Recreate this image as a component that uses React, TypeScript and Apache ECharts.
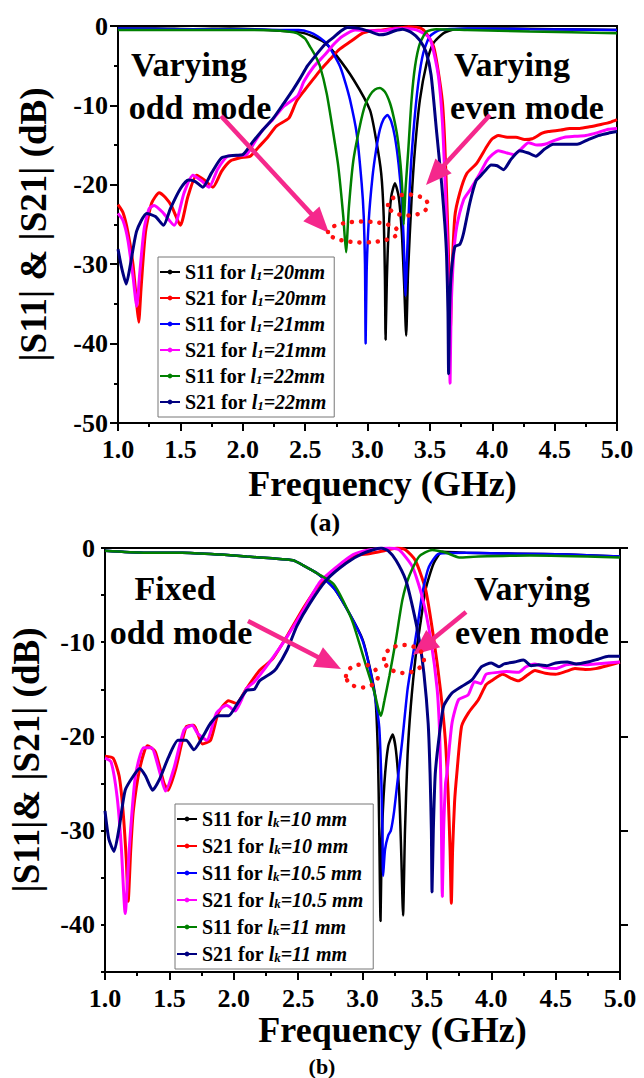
import React, { useEffect, useRef } from 'react';
import * as echarts from 'echarts';

// ---------- (a) data: |S11| / |S21| in dB vs frequency in GHz ----------
const aNames = ['S11 for l1=20mm', 'S21 for l1=20mm', 'S11 for l1=21mm', 'S21 for l1=21mm', 'S11 for l1=22mm', 'S21 for l1=22mm'];

const a_S11_l20: number[][] = [
  [1.0, -0.3], [1.3, -0.3], [1.6, -0.4], [1.9, -0.3], [2.1, -0.4], [2.3, -0.6], [2.49, -0.9], [2.65, -2.0], [2.75, -3.7],
  [2.89, -6.8], [3.02, -10.6], [3.07, -14.4], [3.11, -18.6], [3.13, -24], [3.14, -32], [3.145, -39.5], [3.155, -32],
  [3.17, -25.5], [3.19, -21.5], [3.22, -19.8], [3.25, -21.5], [3.275, -26], [3.295, -33], [3.31, -39], [3.325, -31],
  [3.353, -21.9], [3.38, -15.6], [3.42, -9.3], [3.474, -4.7], [3.527, -2.2], [3.61, -0.9], [3.7, -0.4], [4.0, -0.3],
  [4.5, -0.4], [5.0, -0.5],
];
const a_S11_l21: number[][] = [
  [1.0, -0.3], [1.5, -0.4], [2.0, -0.4], [2.3, -0.5], [2.45, -0.5], [2.54, -0.8], [2.6, -1.3], [2.673, -2.2], [2.73, -3.6],
  [2.78, -5.1], [2.82, -7], [2.86, -9.3], [2.913, -13.5], [2.953, -19.8], [2.97, -24], [2.98, -30], [2.985, -40],
  [2.993, -31], [3.01, -24.5], [3.04, -19], [3.07, -15.5], [3.1, -13], [3.13, -11.7], [3.16, -11.2], [3.19, -12],
  [3.22, -14], [3.25, -17.5], [3.275, -22], [3.29, -27], [3.305, -34], [3.315, -30], [3.34, -19.8], [3.367, -13.5],
  [3.407, -7.2], [3.447, -3.4], [3.5, -1.3], [3.58, -0.5], [3.8, -0.3], [4.3, -0.4], [5.0, -0.5],
];
const a_S11_l22: number[][] = [
  [1.0, -0.5], [1.5, -0.5], [2.0, -0.5], [2.3, -0.6], [2.432, -0.9], [2.5, -1.6], [2.539, -2.6], [2.58, -3.7], [2.62, -5.1],
  [2.673, -8.5], [2.726, -13.5], [2.766, -17.7], [2.806, -24], [2.828, -28.5], [2.85, -23], [2.886, -17], [2.94, -12.5],
  [2.98, -10], [3.02, -8.7], [3.06, -8.0], [3.1, -7.8], [3.14, -8.3], [3.18, -9.7], [3.21, -11.5], [3.24, -14],
  [3.265, -17.5], [3.28, -21], [3.29, -25], [3.305, -20.5], [3.327, -15.6], [3.353, -9.3], [3.381, -5.1], [3.42, -2.2],
  [3.474, -0.7], [3.55, -0.4], [3.8, -0.5], [4.3, -0.7], [5.0, -0.9],
];
const a_S21_l20: number[][] = [
  [1.0, -22.5], [1.04, -23.5], [1.08, -26], [1.12, -30], [1.15, -35], [1.166, -37.3], [1.185, -33], [1.22, -26],
  [1.27, -22.3], [1.33, -21], [1.38, -21.6], [1.43, -22.7], [1.5, -25.1], [1.56, -21.5], [1.63, -18.8], [1.7, -19.5],
  [1.76, -20.3], [1.83, -18.3], [1.9, -17], [1.98, -16.6], [2.06, -16.4], [2.13, -15.2], [2.2, -14], [2.27, -12.6],
  [2.37, -11.6], [2.43, -9.5], [2.5, -8], [2.57, -6.6], [2.63, -5.4], [2.7, -4.2], [2.77, -3.0], [2.87, -1.9],
  [2.96, -0.9], [3.04, -0.6], [3.12, -0.5], [3.2, -0.3], [3.28, -0.2], [3.33, -0.1], [3.43, -0.3], [3.47, -0.9],
  [3.53, -2.6], [3.56, -5], [3.6, -9.5], [3.62, -15], [3.64, -24], [3.655, -32], [3.665, -38], [3.675, -32], [3.7, -24],
  [3.74, -21], [3.795, -18.6], [3.875, -17.3], [3.955, -15.2], [4.0, -14.2], [4.05, -13.8], [4.12, -14], [4.19, -14],
  [4.26, -14.3], [4.32, -14.2], [4.4, -13.5], [4.45, -13.3], [4.55, -13.1], [4.62, -12.9], [4.7, -12.9], [4.78, -12.7],
  [4.87, -12.4], [4.95, -12.1], [5.0, -11.8],
];
const a_S21_l21: number[][] = [
  [1.0, -23.6], [1.04, -24.5], [1.08, -27], [1.12, -31.5], [1.15, -35.3], [1.175, -31], [1.21, -25.5], [1.25, -23],
  [1.29, -22.6], [1.36, -23.5], [1.45, -25.1], [1.53, -21], [1.6, -18.8], [1.67, -19.5], [1.73, -20.3], [1.8, -18],
  [1.88, -16.4], [1.96, -16.3], [2.03, -16.2], [2.1, -14.5], [2.16, -13.1], [2.24, -11.8], [2.33, -10.1], [2.44, -8.8],
  [2.49, -7], [2.57, -5.1], [2.66, -3.6], [2.73, -2.3], [2.8, -1.3], [2.9, -0.5], [3.04, -0.6], [3.13, -0.6],
  [3.23, -0.3], [3.37, -0.4], [3.46, -1.0], [3.5, -1.6], [3.53, -3.2], [3.57, -6.5], [3.6, -12], [3.62, -19],
  [3.64, -28], [3.655, -38], [3.662, -45], [3.67, -36], [3.69, -29], [3.715, -25.3], [3.77, -21.9], [3.82, -20.7],
  [3.9, -18.6], [3.955, -17], [4.0, -16.2], [4.05, -15.7], [4.12, -16], [4.17, -16.2], [4.23, -15.5], [4.29, -14.7],
  [4.36, -15], [4.42, -14.9], [4.5, -14.4], [4.58, -14], [4.66, -13.9], [4.75, -13.8], [4.85, -13.4], [4.93, -13],
  [5.0, -12.9],
];
const a_S21_l22: number[][] = [
  [1.0, -28.1], [1.03, -30.5], [1.066, -32.5], [1.1, -30], [1.15, -25.8], [1.23, -23.6], [1.3, -24], [1.365, -25.1],
  [1.42, -23], [1.5, -20.5], [1.565, -19.4], [1.62, -19.6], [1.68, -20.3], [1.75, -18.5], [1.83, -16.6], [1.92, -16.3],
  [2.0, -16.2], [2.08, -14.6], [2.16, -13.1], [2.25, -11.5], [2.33, -9.7], [2.4, -8.1], [2.46, -6.6], [2.52, -5.0],
  [2.59, -3.6], [2.66, -2.3], [2.73, -1.4], [2.79, -0.6], [2.84, -0.2], [2.93, -0.3], [3.02, -0.7], [3.1, -1.1],
  [3.15, -1.0], [3.22, -0.6], [3.28, -0.4], [3.36, -0.9], [3.42, -1.8], [3.47, -3.3], [3.51, -6.2], [3.555, -13.5],
  [3.594, -19.8], [3.62, -25], [3.634, -29], [3.645, -36], [3.65, -43.8], [3.658, -36], [3.67, -31.4], [3.7, -27.8],
  [3.74, -27.5], [3.77, -26.1], [3.82, -22.3], [3.87, -19.5], [3.9, -19], [3.955, -18], [3.99, -17.5], [4.04, -17.6],
  [4.09, -18.1], [4.15, -16.8], [4.22, -15.7], [4.29, -16], [4.35, -16.4], [4.42, -15.5], [4.49, -14.9], [4.58, -14.9],
  [4.68, -14.9], [4.77, -14.3], [4.85, -13.8], [4.93, -13.5], [5.0, -13.3],
];

// ---------- (b) data ----------
const bNames = ['S11 for lk=10 mm', 'S21 for lk=10 mm', 'S11 for lk=10.5 mm', 'S21 for lk=10.5 mm', 'S11 for lk=11 mm', 'S21 for lk=11 mm'];

const b_S11_l10: number[][] = [
  [1.0, -0.3], [1.3, -0.5], [1.6, -0.5], [1.9, -0.7], [2.1, -0.9], [2.3, -1.1], [2.46, -1.3], [2.56, -2.0], [2.65, -2.7],
  [2.78, -4.3], [2.9, -7], [3.0, -9.7], [3.06, -12.9], [3.1, -15.9], [3.12, -22], [3.13, -30], [3.14, -39.6],
  [3.15, -31], [3.17, -25], [3.2, -21], [3.234, -19.8], [3.26, -21.5], [3.285, -26], [3.3, -32], [3.315, -39],
  [3.33, -30], [3.35, -22], [3.375, -16.8], [3.413, -11.5], [3.45, -8], [3.49, -4.4], [3.554, -1.6], [3.62, -0.4],
  [3.8, -0.5], [4.2, -0.6], [4.6, -0.7], [5.0, -0.9],
];
const b_S11_l10_5: number[][] = [
  [1.0, -0.3], [1.3, -0.5], [1.6, -0.5], [1.9, -0.7], [2.1, -0.9], [2.3, -1.1], [2.46, -1.3], [2.56, -2.0], [2.65, -2.7],
  [2.78, -4.3], [2.9, -7], [3.0, -9.8], [3.06, -13], [3.1, -16], [3.13, -19], [3.145, -24], [3.155, -30], [3.16, -34.8],
  [3.175, -32], [3.2, -30.5], [3.22, -30], [3.245, -28], [3.27, -25], [3.31, -20.3], [3.35, -15], [3.39, -11.5],
  [3.43, -8], [3.465, -4.8], [3.516, -2.0], [3.593, -0.6], [3.8, -0.5], [4.2, -0.6], [4.6, -0.7], [5.0, -0.9],
];
const b_S11_l11: number[][] = [
  [1.0, -0.3], [1.3, -0.5], [1.6, -0.5], [1.9, -0.7], [2.1, -0.9], [2.3, -1.1], [2.46, -1.3], [2.56, -2.0], [2.65, -2.7],
  [2.774, -3.8], [2.85, -5.6], [2.927, -8.0], [3.03, -12.6], [3.094, -15.4], [3.125, -17.2], [3.144, -17.8],
  [3.17, -16.2], [3.21, -13.5], [3.26, -9.7], [3.31, -5.5], [3.362, -3.0], [3.44, -0.9], [3.54, -0.2], [3.65, -0.5],
  [3.75, -1.0], [3.9, -0.9], [4.3, -0.8], [5.0, -1.0],
];
const b_S21_l10: number[][] = [
  [1.0, -22.1], [1.063, -22.3], [1.11, -24.2], [1.14, -27.9], [1.165, -33], [1.18, -37.5], [1.2, -32], [1.22, -27.9],
  [1.27, -23.4], [1.33, -21], [1.39, -21.6], [1.457, -24.9], [1.49, -25.7], [1.55, -23.4], [1.63, -19], [1.69, -18.8],
  [1.756, -20.8], [1.82, -20.4], [1.88, -17.5], [1.96, -16.2], [2.02, -16.5], [2.1, -14.9], [2.2, -13], [2.3, -11.8],
  [2.42, -9.2], [2.54, -6.4], [2.67, -3.8], [2.8, -2.1], [2.92, -0.9], [3.05, -0.6], [3.17, -0.3], [3.27, 0],
  [3.336, -0.2], [3.41, -1.3], [3.49, -4.4], [3.554, -9.7], [3.605, -15], [3.643, -20.3], [3.665, -26], [3.68, -32],
  [3.69, -37.7], [3.7, -32], [3.715, -27], [3.733, -23.9], [3.77, -18.9], [3.823, -17.5], [3.9, -16.1], [3.96, -14.5],
  [4.0, -14.1], [4.09, -13.4], [4.15, -13.8], [4.21, -14.1], [4.27, -13.6], [4.34, -13], [4.42, -13.3], [4.5, -13.4],
  [4.58, -13.1], [4.65, -12.8], [4.73, -12.9], [4.81, -12.8], [4.9, -12.5], [5.0, -12.1],
];
const b_S21_l10_5: number[][] = [
  [1.0, -22.3], [1.047, -22.7], [1.094, -26.4], [1.126, -31.6], [1.157, -38.8], [1.19, -31.6], [1.236, -24.2],
  [1.3, -21.2], [1.36, -21.2], [1.425, -23.8], [1.47, -25.8], [1.535, -23.4], [1.614, -19.3], [1.677, -18.8],
  [1.72, -19.7], [1.79, -20.4], [1.866, -17.5], [1.945, -16.7], [2.01, -17.3], [2.1, -14.9], [2.16, -14.2],
  [2.29, -11.9], [2.415, -9.4], [2.54, -6.6], [2.67, -3.6], [2.8, -2.0], [2.927, -0.7], [3.05, -0.2], [3.21, 0],
  [3.285, -0.2], [3.388, -2.0], [3.464, -5.2], [3.53, -9.7], [3.58, -15], [3.6, -20], [3.61, -26], [3.62, -37],
  [3.63, -30], [3.645, -25], [3.656, -23.9], [3.695, -18.6], [3.746, -16.1], [3.82, -15.6], [3.87, -14.2],
  [3.92, -14.4], [3.96, -13.4], [4.05, -13.2], [4.12, -13.1], [4.21, -13.2], [4.27, -12.6], [4.34, -12.3],
  [4.42, -12.7], [4.5, -12.8], [4.58, -12.4], [4.65, -12.3], [4.73, -12.4], [4.81, -12.3], [4.9, -12.2], [5.0, -12.1],
];
const b_S21_l11: number[][] = [
  [1.0, -27.9], [1.03, -30.9], [1.07, -32.2], [1.11, -29.7], [1.157, -25.7], [1.22, -24.2], [1.27, -23.4],
  [1.315, -24.2], [1.37, -25.7], [1.425, -24.5], [1.49, -22.3], [1.567, -20.4], [1.63, -20.4], [1.69, -21.4],
  [1.756, -20.1], [1.82, -18.6], [1.88, -17.8], [1.96, -17.8], [2.02, -16.7], [2.1, -15.1], [2.16, -15.0],
  [2.2, -14.1], [2.29, -13.3], [2.33, -12.8], [2.415, -10.8], [2.49, -8.3], [2.59, -5.9], [2.72, -3.4], [2.875, -1.6],
  [3.0, -0.6], [3.144, 0], [3.2, -0.3], [3.26, -1.3], [3.336, -3.4], [3.388, -6.2], [3.44, -9.7], [3.477, -13.3],
  [3.51, -18.6], [3.525, -24], [3.535, -30], [3.54, -36.5], [3.55, -30], [3.565, -24], [3.593, -20.3], [3.63, -16.8],
  [3.695, -15.4], [3.77, -14.7], [3.85, -14], [3.925, -12.6], [4.0, -12.2], [4.06, -12.6], [4.1, -12.3], [4.18, -12.1],
  [4.25, -11.9], [4.31, -12.5], [4.37, -12.4], [4.43, -12.5], [4.5, -12.2], [4.59, -12.1], [4.66, -12.3],
  [4.75, -12.1], [4.83, -11.8], [4.91, -11.5], [5.0, -11.5],
];

const seriesColors = ['#000000', '#ff0000', '#0000ff', '#ff00ff', '#008000', '#000080'];
const xTicksMin = 1.0;
const xTicksMax = 5.0;
const xTickStep = 0.5;
const aYMin = -50;
const bYMin = -45;
const yMajorStep = 10;
const bMajorTicks = [-40, -30, -20, -10, 0];

const SERIF = '"Liberation Serif", "Times New Roman", serif';
const PINK = '#f5288c';

function arrow(x1: number, y1: number, x2: number, y2: number) {
  const dx = x2 - x1, dy = y2 - y1;
  const len = Math.sqrt(dx * dx + dy * dy);
  const ux = dx / len, uy = dy / len;
  const hl = 26, hw = 11;
  const bx = x2 - ux * hl, by = y2 - uy * hl;
  const px = -uy, py = ux;
  return [
    { type: 'line', z: 100, shape: { x1, y1, x2: bx + ux * 2, y2: by + uy * 2 }, style: { stroke: PINK, lineWidth: 4.5 } },
    {
      type: 'polygon', z: 100,
      shape: { points: [[x2, y2], [bx + px * hw, by + py * hw], [bx - px * hw, by - py * hw]] },
      style: { fill: PINK },
    },
  ];
}

function dotEllipse(cx: number, cy: number, rx: number, ry: number) {
  return {
    type: 'ellipse', z: 100,
    shape: { cx, cy, rx, ry },
    style: { fill: 'none', stroke: '#ff1010', lineWidth: 4.5, lineDash: [0.1, 9], lineCap: 'round' },
  };
}

function annot(text: string, x: number, y: number) {
  return {
    type: 'text', z: 100, x, y,
    style: { text, font: `bold 34px ${SERIF}`, fill: '#000', align: 'center', verticalAlign: 'middle' },
  };
}

function legendFormatter(name: string) {
  const m = name.match(/^(S\d\d) for l(\w)(=.*)$/);
  if (!m) return name;
  return `{b|${m[1]} for }{i|l}{s|${m[2]}}{i|${m[3]}}`;
}

const legendRich = {
  b: { fontFamily: SERIF, fontWeight: 'bold', fontSize: 20, color: '#000', lineHeight: 20 },
  i: { fontFamily: SERIF, fontWeight: 'bold', fontStyle: 'italic', fontSize: 20, color: '#000', lineHeight: 20 },
  s: { fontFamily: SERIF, fontWeight: 'bold', fontStyle: 'italic', fontSize: 13, color: '#000', lineHeight: 20, verticalAlign: 'bottom', padding: [7, 0, 0, 0] },
};

const axisBase = {
  axisLine: { show: true, onZero: false, lineStyle: { color: '#000', width: 2 } },
  splitLine: { show: false },
  minorSplitLine: { show: false },
};

function xAxis(gridIndex: number, nameGap: number, padLeft: number) {
  return {
    ...axisBase,
    type: 'value', gridIndex, min: xTicksMin, max: xTicksMax, interval: xTickStep,
    axisTick: { show: true, length: 8, lineStyle: { color: '#000', width: 2 } },
    minorTick: { show: true, splitNumber: 2, length: 4, lineStyle: { color: '#000', width: 2 } },
    axisLabel: {
      formatter: (v: number) => v.toFixed(1), color: '#000', fontFamily: SERIF, fontWeight: 'bold', fontSize: 26, margin: 13,
    },
    name: 'Frequency (GHz)', nameLocation: 'middle', nameGap,
    nameTextStyle: { color: '#000', fontFamily: SERIF, fontWeight: 'bold', fontSize: 36, padding: [0, 0, 0, padLeft] },
  };
}

function mkSeries(name: string, data: number[][], color: string, xi: number, yi: number, w: number) {
  return {
    type: 'line', name, data, xAxisIndex: xi, yAxisIndex: yi,
    symbol: 'circle', symbolSize: 4, showSymbol: false, smooth: 0.2,
    lineStyle: { color, width: w }, itemStyle: { color },
    emphasis: { disabled: true },
  };
}

const aData = [a_S11_l20, a_S21_l20, a_S11_l21, a_S21_l21, a_S11_l22, a_S21_l22];
const bData = [b_S11_l10, b_S21_l10, b_S11_l10_5, b_S21_l10_5, b_S11_l11, b_S21_l11];

export default function App() {
  const ref = useRef<HTMLDivElement>(null);
  useEffect(() => {
    document.body.style.margin = '0';
    const chart = echarts.init(ref.current!, null, { renderer: 'svg' });
    const option: any = {
      animation: false,
      backgroundColor: '#ffffff',
      grid: [
        { left: 118, top: 26, width: 499, height: 397, show: true, borderColor: '#000', borderWidth: 2, backgroundColor: 'transparent' },
        { left: 99, top: 548, width: 521, height: 424, show: true, borderColor: '#000', borderWidth: 2, backgroundColor: 'transparent' },
      ],
      xAxis: [xAxis(0, 43, 30), xAxis(1, 38, 60)],
      yAxis: [
        {
          ...axisBase, type: 'value', gridIndex: 0, min: aYMin, max: 0, interval: yMajorStep,
          axisTick: { show: true, length: 8, lineStyle: { color: '#000', width: 2 } },
          minorTick: { show: true, splitNumber: 2, length: 4, lineStyle: { color: '#000', width: 2 } },
          axisLabel: { color: '#000', fontFamily: SERIF, fontWeight: 'bold', fontSize: 26, margin: 10 },
          name: '|S11| & |S21| (dB)', nameLocation: 'middle', nameGap: 66, nameRotate: 90,
          nameTextStyle: { color: '#000', fontFamily: SERIF, fontWeight: 'bold', fontSize: 37 },
        },
        {
          ...axisBase, type: 'value', gridIndex: 1, min: bYMin, max: 0, interval: 5,
          axisTick: { show: true, length: 4, lineStyle: { color: '#000', width: 2 } },
          axisLabel: {
            color: '#000', fontFamily: SERIF, fontWeight: 'bold', fontSize: 26, margin: 10,
            formatter: (v: number) => (v % yMajorStep === 0 ? String(v) : ''),
          },
          name: '|S11|& |S21| (dB)', nameLocation: 'middle', nameGap: 60, nameRotate: 90,
          nameTextStyle: { color: '#000', fontFamily: SERIF, fontWeight: 'bold', fontSize: 37 },
        },
        {
          type: 'value', gridIndex: 1, min: bYMin, max: 0,
          axisLine: { show: false }, splitLine: { show: false },
          axisTick: { show: true, customValues: bMajorTicks, length: 8, lineStyle: { color: '#000', width: 2 } },
          axisLabel: { show: false },
        },
      ],
      legend: [
        {
          data: aNames, orient: 'vertical', left: 158, top: 257, padding: [5, 8, 5, 1], itemGap: 6,
          itemWidth: 20, itemHeight: 6, backgroundColor: '#fff', borderColor: '#777', borderWidth: 1,
          formatter: legendFormatter, textStyle: { rich: legendRich }, selectedMode: false,
        },
        {
          data: bNames, orient: 'vertical', left: 175, top: 804, padding: [5, 10, 5, 1], itemGap: 7,
          itemWidth: 20, itemHeight: 6, backgroundColor: '#fff', borderColor: '#777', borderWidth: 1,
          formatter: legendFormatter, textStyle: { rich: legendRich }, selectedMode: false,
        },
      ],
      series: [
        ...aData.map((d, i) => mkSeries(aNames[i], d, seriesColors[i], 0, 0, i % 2 === 0 ? 2.5 : 3)),
        ...bData.map((d, i) => mkSeries(bNames[i], d, seriesColors[i], 1, 1, i % 2 === 0 ? 2.5 : 3)),
      ],
      graphic: [
        annot('Varying', 189, 64),
        annot('odd mode', 200, 107),
        annot('Varying', 512, 64),
        annot('even mode', 527, 107),
        ...arrow(221, 116, 329, 233),
        ...arrow(490, 115, 426, 185),
        dotEllipse(363, 232, 35, 10.5),
        dotEllipse(408, 205, 20, 10.5),
        { type: 'text', z: 100, x: 325, y: 522, style: { text: '(a)', font: `bold 26px ${SERIF}`, fill: '#000', align: 'center', verticalAlign: 'middle' } },
        annot('Fixed', 175, 588),
        annot('odd mode', 181, 632),
        annot('Varying', 532, 588),
        annot('even mode', 532, 632),
        ...arrow(248, 621, 341, 669),
        ...arrow(466, 612, 413, 655),
        dotEllipse(362, 676, 16, 11.5),
        dotEllipse(404, 659, 20, 14),
        { type: 'text', z: 100, x: 322, y: 1066, style: { text: '(b)', font: `bold 22px ${SERIF}`, fill: '#000', align: 'center', verticalAlign: 'middle' } },
      ],
    };
    chart.setOption(option);
    return () => chart.dispose();
  }, []);
  return <div ref={ref} style={{ width: 644, height: 1078, position: 'absolute', left: 0, top: 0, background: '#fff' }} />;
}
